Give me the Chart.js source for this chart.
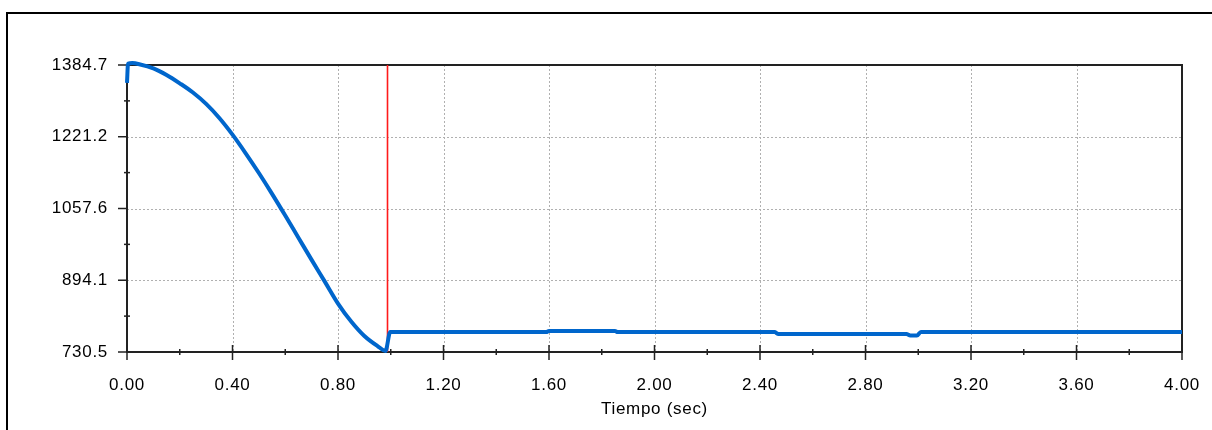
<!DOCTYPE html>
<html>
<head>
<meta charset="utf-8">
<script src="https://cdn.jsdelivr.net/npm/chart.js@4.4.1/dist/chart.umd.min.js"></script>
<style>
  html, body { margin: 0; padding: 0; background: #fff; }
  #wrap { width: 1212px; height: 430px; position: relative; }
</style>
</head>
<body>
<div id="wrap"><canvas id="c"></canvas></div>
<script>
// ---- data ----
const times  = [0, 0.004, 0.02, 0.05, 0.10, 0.15, 0.20, 0.25, 0.30, 0.35, 0.40, 0.45, 0.50, 0.55, 0.60, 0.65, 0.70, 0.75, 0.80, 0.85, 0.90, 0.95, 0.98, 0.998, 1.59, 1.60, 1.85, 1.86, 2.455, 2.47, 2.955, 2.97, 2.995, 3.01, 4.0];
const speeds = [1344, 1388, 1389, 1386, 1377, 1362, 1343, 1322, 1296, 1264, 1226, 1183.5, 1138.5, 1091, 1041.5, 991, 940.5, 891, 841, 800, 767, 744, 733, 776, 776, 778.5, 778.5, 776, 776, 771.5, 771.5, 768, 768, 776, 776];
const cursorTime = 0.9877;
const yTicks = [730.5, 894.1, 1057.6, 1221.2, 1384.7];
const xTicks = [0, 0.4, 0.8, 1.2, 1.6, 2.0, 2.4, 2.8, 3.2, 3.6, 4.0];
const xTitle = 'Tiempo (sec)';

const FONT = { family: '"Liberation Sans", Arial, sans-serif', size: 17 };

const spacing = {
  id: 'spacing',
  beforeLayout(chart) { chart.ctx.letterSpacing = '0.7px'; },
  beforeDraw(chart) { chart.ctx.letterSpacing = '0.7px'; }
};

const decor = {
  id: 'decor',
  beforeDatasetsDraw(chart) {
    const { ctx, chartArea: a, scales: { x, y } } = chart;
    const line = (x1, y1, x2, y2) => { ctx.beginPath(); ctx.moveTo(x1, y1); ctx.lineTo(x2, y2); ctx.stroke(); };
    ctx.save();
    // outer frame
    ctx.strokeStyle = '#000'; ctx.lineWidth = 2;
    ctx.beginPath(); ctx.moveTo(7, chart.height + 2); ctx.lineTo(7, 13); ctx.lineTo(chart.width + 2, 13); ctx.stroke();
    // dotted grid
    ctx.strokeStyle = '#b0b0b0'; ctx.lineWidth = 1; ctx.setLineDash([2, 2]);
    xTicks.forEach(v => {
      if (v > xTicks[0] && v < xTicks[xTicks.length - 1]) {
        const px = Math.round(x.getPixelForValue(v)) + 0.5;
        line(px, a.top, px, a.bottom);
      }
    });
    yTicks.forEach((v, i) => {
      if (i > 0 && i < yTicks.length - 1) {
        const py = Math.round(y.getPixelForValue(v)) + 0.5;
        line(a.left, py, a.right, py);
      }
    });
    ctx.setLineDash([]);
    // plot border
    ctx.strokeStyle = '#222'; ctx.lineWidth = 2;
    ctx.strokeRect(a.left, a.top, a.right - a.left, a.bottom - a.top);
    // x ticks (major + minor)
    ctx.lineWidth = 1.5;
    xTicks.forEach((v, i) => {
      const px = x.getPixelForValue(v);
      line(px, a.bottom - 7, px, a.bottom + 8);
      if (i < xTicks.length - 1) {
        const pm = x.getPixelForValue((v + xTicks[i + 1]) / 2);
        line(pm, a.bottom - 3, pm, a.bottom + 3);
      }
    });
    // y ticks (major + minor)
    yTicks.forEach((v, i) => {
      const py = y.getPixelForValue(v);
      line(a.left - 9, py, a.left, py);
      if (i < yTicks.length - 1) {
        const pm = y.getPixelForValue((v + yTicks[i + 1]) / 2);
        line(a.left - 3, pm, a.left + 3, pm);
      }
    });
    ctx.restore();
  }
};

new Chart(document.getElementById('c'), {
  type: 'line',
  data: {
    datasets: [
      {
        data: times.map((t, i) => ({ x: t, y: speeds[i] })),
        borderColor: '#0066cc',
        borderWidth: 4,
        pointRadius: 0,
        cubicInterpolationMode: 'monotone',
        fill: false,
        clip: 8
      },
      {
        data: [{ x: cursorTime, y: yTicks[0] }, { x: cursorTime, y: yTicks[yTicks.length - 1] }],
        borderColor: '#ff1a1a',
        borderWidth: 1.6,
        pointRadius: 0,
        fill: false
      }
    ]
  },
  options: {
    responsive: true,
    maintainAspectRatio: false,
    animation: false,
    events: [],
    layout: { padding: { top: 65, right: 30, bottom: 0, left: 0 } },
    plugins: { legend: { display: false }, tooltip: { enabled: false } },
    scales: {
      x: {
        type: 'linear',
        min: xTicks[0], max: xTicks[xTicks.length - 1],
        afterBuildTicks: s => { s.ticks = xTicks.map(v => ({ value: v })); },
        afterFit: s => { s.height = 78; s.paddingLeft = 0; s.paddingRight = 0; },
        grid: { display: false },
        border: { display: false },
        ticks: { callback: v => Number(v).toFixed(2), font: FONT, color: '#000', padding: 15, maxRotation: 0, autoSkip: false },
        title: { display: true, text: xTitle, font: FONT, color: '#000', padding: { top: 0, bottom: 10 } }
      },
      y: {
        type: 'linear',
        min: yTicks[0], max: yTicks[yTicks.length - 1],
        afterBuildTicks: s => { s.ticks = yTicks.map(v => ({ value: v })); },
        afterFit: s => { s.width = 127; s.paddingTop = 0; s.paddingBottom = 0; },
        grid: { display: false },
        border: { display: false },
        ticks: { callback: v => Number(v).toFixed(1), font: FONT, color: '#000', padding: 11, autoSkip: false }
      }
    }
  },
  plugins: [spacing, decor]
});
</script>
</body>
</html>
